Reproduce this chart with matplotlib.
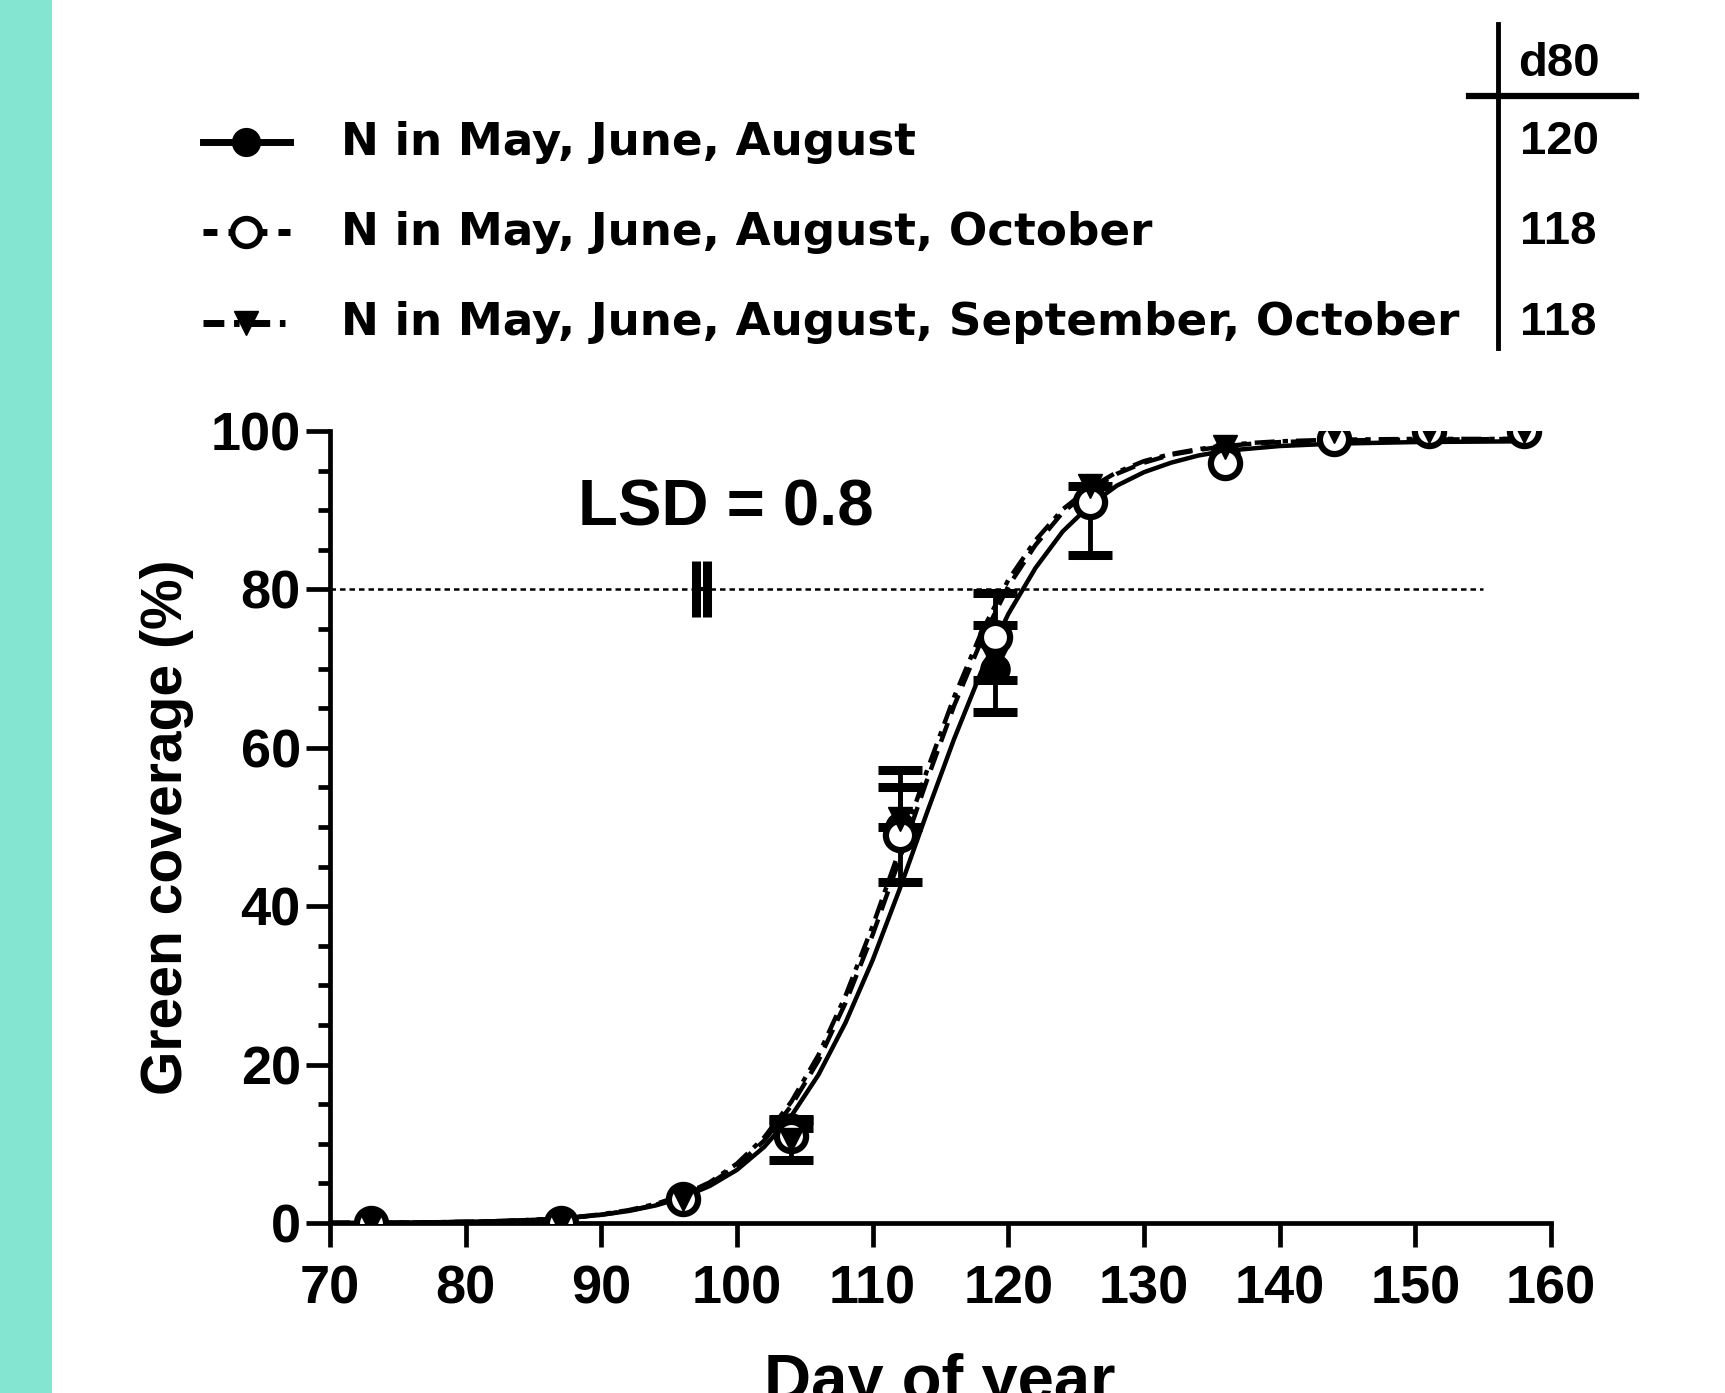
import numpy as np
import matplotlib
matplotlib.use('Agg')
import matplotlib.pyplot as plt
from matplotlib.lines import Line2D
from matplotlib.patches import Rectangle
from matplotlib.ticker import MultipleLocator

plt.rcParams['font.family'] = ['Liberation Sans', 'DejaVu Sans']
plt.rcParams['font.weight'] = 'bold'
plt.rcParams['axes.labelweight'] = 'bold'

# measured points (day of year, green coverage %)
days = [73, 87, 96, 104, 112, 119, 126, 136, 144, 151, 158]
s1_vals = [0, 0, 3, 12, 50, 70, 91, 97, 99.5, 100, 100]
s2_vals = [0, 0, 3, 11, 49, 74, 91, 96, 99, 100, 100]
s3_vals = [0, 0, 3, 10.5, 51, 71, 93, 98, 100, 100, 100]

# error bars (below / above), 0 = not drawn
s1_lo = [0, 0, 0, 0, 0, 5.5, 0, 0, 0, 0, 0]
s1_hi = [0, 0, 0, 1, 7.2, 5.5, 0, 0, 0, 0, 0]
s2_lo = [0, 0, 0, 0, 6, 5.5, 0, 0, 0, 0, 0]
s2_hi = [0, 0, 0, 0, 6, 5.5, 0, 0, 0, 0, 0]
s3_lo = [0, 0, 0, 2.6, 0, 0, 8.6, 0, 0, 0, 0]
s3_hi = [0, 0, 0, 2.6, 0, 0, 0, 0, 0, 0, 0]

# fitted curves
fit_days = [70, 72, 74, 76, 78, 80, 82, 84, 86, 88, 90, 92, 94, 96, 98, 100, 102,
            104, 106, 108, 110, 112, 114, 116, 118, 120, 122, 124, 126, 128, 130,
            132, 134, 136, 138, 140, 144, 150, 158]
fit1 = [0.02, 0.03, 0.05, 0.07, 0.10, 0.15, 0.22, 0.32, 0.48, 0.70, 1.03, 1.51,
        2.21, 3.22, 4.68, 6.71, 9.6, 13.5, 18.7, 25.3, 33.2, 42.2, 51.8, 61.1,
        69.6, 76.9, 82.7, 87.3, 90.6, 93.1, 94.8, 96.0, 96.9, 97.5, 97.8, 98.1,
        98.4, 98.6, 98.7]
fit2 = [0.02, 0.03, 0.04, 0.06, 0.10, 0.14, 0.21, 0.32, 0.47, 0.70, 1.05, 1.55,
        2.30, 3.39, 4.97, 7.23, 10.4, 14.8, 20.5, 27.8, 36.4, 46.0, 55.9, 65.3,
        73.5, 80.4, 85.6, 89.7, 92.5, 94.6, 96.0, 97.0, 97.6, 98.1, 98.4, 98.6,
        98.8, 98.9, 99.0]
fit3 = [0.02, 0.03, 0.04, 0.06, 0.10, 0.15, 0.22, 0.33, 0.49, 0.73, 1.10, 1.62,
        2.40, 3.52, 5.15, 7.5, 10.8, 15.3, 21.2, 28.7, 37.5, 47.2, 57.1, 66.4,
        74.5, 81.2, 86.2, 90.1, 92.8, 94.8, 96.2, 97.1, 97.7, 98.2, 98.5, 98.7,
        98.9, 99.0, 99.0]

labels = ['N in May, June, August',
          'N in May, June, August, October',
          'N in May, June, August, September, October']
d80 = ['120', '118', '118']
lsd_day = 97.4
lsd = 0.8

W, H = 1725, 1393
fig = plt.figure(figsize=(W / 100, H / 100), dpi=100)

def fx(x):
    return x / W

def fy(y):
    return 1 - y / H

fig.add_artist(Rectangle((0, 0), fx(52), 1, transform=fig.transFigure,
                         color='#84e6d0', lw=0, zorder=0))

ax = fig.add_axes([fx(330), fy(1223), fx(1551) - fx(330), fy(431) - fy(1223)])

lw = 3.2
dash2 = (4.5, 2.2)
dash3 = (4.5, 1.8, 1.2, 1.8)

ax.plot(fit_days, fit1, color='k', lw=lw, zorder=3)
ax.plot(fit_days, fit2, color='k', lw=lw, dashes=dash2, zorder=3)
ax.plot(fit_days, fit3, color='k', lw=lw, dashes=dash3, zorder=3)

ax.axhline(80, xmin=0, xmax=(155 - 70) / 90, color='k', lw=1.8, dashes=(2.2, 1.6), zorder=2)

def bars(vals, lo, hi):
    idx = [i for i in range(len(days)) if lo[i] > 0 or hi[i] > 0]
    for i in idx:
        ax.errorbar([days[i]], [vals[i]], yerr=[[lo[i]], [hi[i]]], fmt='none',
                    ecolor='k', elinewidth=3.5, capsize=16, capthick=6.5, zorder=4)

bars(s1_vals, s1_lo, s1_hi)
bars(s2_vals, s2_lo, s2_hi)
bars(s3_vals, s3_lo, s3_hi)

ms = 21
ax.plot(days, s1_vals, 'o', ms=ms, color='k', zorder=5)
ax.plot(days, s2_vals, 'o', ms=ms, mfc='white', mec='k', mew=4.5, zorder=6)
ax.plot(days, s3_vals, 'v', ms=ms - 4, color='k', zorder=7)

# LSD bar
ax.errorbar([lsd_day], [80], xerr=lsd / 2, fmt='none', ecolor='k',
            elinewidth=3, capsize=20, capthick=6.5, zorder=4)
ax.text(99.2, 90.2, 'LSD = 0.8', fontsize=47, ha='center', va='center')

ax.set_xlim(70, 160)
ax.set_ylim(0, 100)
ax.xaxis.set_major_locator(MultipleLocator(10))
ax.yaxis.set_major_locator(MultipleLocator(20))
ax.yaxis.set_minor_locator(MultipleLocator(5))
for s in ['top', 'right']:
    ax.spines[s].set_visible(False)
for s in ['left', 'bottom']:
    ax.spines[s].set_linewidth(3.4)
ax.tick_params(which='major', length=17, width=3.4, labelsize=39)
ax.tick_params(axis='x', pad=13)
ax.tick_params(axis='y', pad=4)
ax.tick_params(which='minor', length=9, width=3.4)
ax.set_ylabel('Green coverage (%)', fontsize=41, labelpad=12)
fig.text(fx(940), fy(1353), 'Day of year', fontsize=47, ha='center', va='top')

# legend
rows = [142, 232, 323]
styles = [dict(ls='-', marker='o', mfc='k'),
          dict(dashes=(2, 1.6), marker='o', mfc='white', mew=4),
          dict(dashes=(3, 1.4, 0.8, 1.4), marker='v', mfc='k')]
for y, lab, st, d in zip(rows, labels, styles, d80):
    ln = Line2D([fx(203), fx(290)], [fy(y), fy(y)], transform=fig.transFigure,
                color='k', lw=5, **{k: v for k, v in st.items() if k not in ('marker', 'mfc', 'mew')})
    fig.add_artist(ln)
    mk = Line2D([fx(246)], [fy(y)], transform=fig.transFigure, ls='none',
                marker=st['marker'], ms=20 if st['marker'] == 'o' else 17,
                mfc=st['mfc'], mec='k', mew=st.get('mew', 1))
    fig.add_artist(mk)
    fig.text(fx(341), fy(y), lab, fontsize=32.6, ha='left', va='center',
             family=['DejaVu Sans'])
    fig.text(fx(1520), fy(y), d, fontsize=34, ha='left', va='center')

fig.text(fx(1518), fy(64), 'd80', fontsize=34, ha='left', va='center')
fig.add_artist(Line2D([fx(1498), fx(1498)], [fy(24), fy(348)],
                      transform=fig.transFigure, color='k', lw=3.5))
fig.add_artist(Line2D([fx(1469), fx(1636)], [fy(96), fy(96)],
                      transform=fig.transFigure, color='k', lw=4.5))

plt.savefig('out.png', dpi=100)
